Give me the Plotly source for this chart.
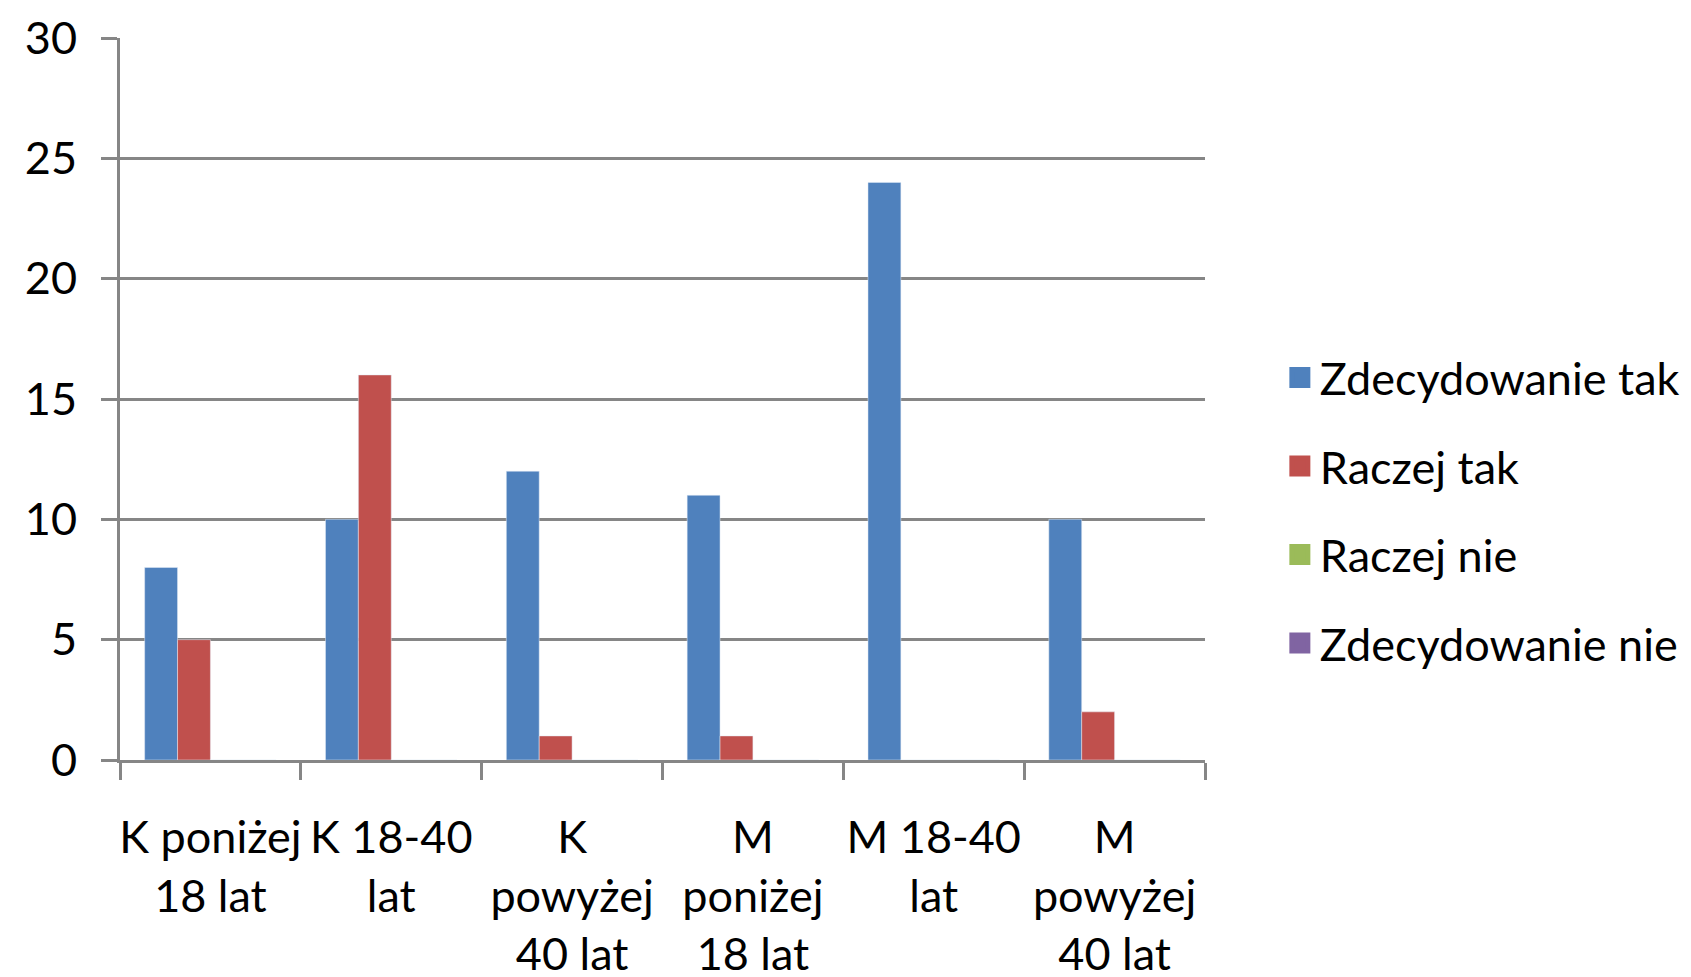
import plotly.graph_objects as go

categories = ["K poniżej<br>18 lat", "K 18-40<br>lat", "K<br>powyżej<br>40 lat",
              "M<br>poniżej<br>18 lat", "M 18-40<br>lat", "M<br>powyżej<br>40 lat"]
series_names = ["Zdecydowanie tak", "Raczej tak", "Raczej nie", "Zdecydowanie nie"]
zdecydowanie_tak = [8, 10, 12, 11, 24, 10]
raczej_tak = [5, 16, 1, 1, 0, 2]
raczej_nie = [0, 0, 0, 0, 0, 0]
zdecydowanie_nie = [0, 0, 0, 0, 0, 0]
colors = ["#4F81BD", "#C0504D", "#9BBB59", "#8064A2"]
y_ticks = [0, 5, 10, 15, 20, 25, 30]

FONT = "Lato"
GRAY = "#868686"

fig = go.Figure()
for i, (name, vals) in enumerate(zip(series_names,
                                     [zdecydowanie_tak, raczej_tak, raczej_nie, zdecydowanie_nie])):
    fig.add_trace(go.Bar(x=categories, y=vals, name=name, marker_color=colors[i],
                         legendgroup=f"g{i}", showlegend=False))
# legend entries with larger square swatches
for i, name in enumerate(series_names):
    fig.add_trace(go.Scatter(x=[None], y=[None], mode="markers", name=name,
                             legendgroup=f"g{i}", showlegend=True,
                             marker=dict(symbol="square", size=16, color=colors[i],
                                         line=dict(color=colors[i], width=5))))

fig.update_layout(
    width=1683, height=969,
    margin=dict(l=112, r=486, t=29.5, b=217, pad=0, autoexpand=False),
    paper_bgcolor="white", plot_bgcolor="white",
    barmode="group", bargap=1.5 / 5.5, bargroupgap=0,
    font=dict(family=FONT, size=45, color="black"),
    showlegend=True,
    legend=dict(x=1.069, xanchor="left", y=0.346, yanchor="middle",
                font=dict(family=FONT, size=45, color="black"),
                tracegroupgap=27, bgcolor="rgba(0,0,0,0)", itemsizing="trace"),
)
fig.update_xaxes(
    type="category", showline=True, linecolor=GRAY, linewidth=3,
    ticks="outside", ticklen=17, tickwidth=3, tickcolor=GRAY, tickson="boundaries",
    showgrid=False, tickfont=dict(family=FONT, size=45, color="black"),
    tickangle=0, automargin=False, ticklabelstandoff=36,
)
fig.update_yaxes(
    range=[0, 30], tickvals=y_ticks, showline=True, linecolor=GRAY, linewidth=3,
    ticks="outside", ticklen=16, tickwidth=3, tickcolor=GRAY,
    showgrid=True, gridcolor=GRAY, gridwidth=3, zeroline=False,
    tickfont=dict(family=FONT, size=45, color="black"),
    automargin=False, ticklabelstandoff=15,
)

fig.write_html("out.html")
